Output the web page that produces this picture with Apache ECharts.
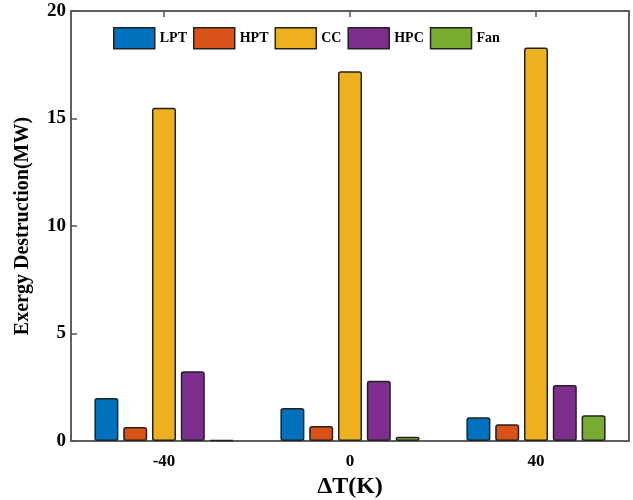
<!DOCTYPE html>
<html><head><meta charset="utf-8">
<script src="https://cdn.jsdelivr.net/npm/echarts@6/dist/echarts.min.js"></script>
<style>html,body{margin:0;padding:0;background:#fff}#c{width:633px;height:500px}</style>
</head><body><div id="c"></div>
<script>
const categories = ['-40', '0', '40'];
const seriesNames = ['LPT', 'HPT', 'CC', 'HPC', 'Fan'];
const LPT = [2.0, 1.53, 1.1];
const HPT = [0.65, 0.7, 0.78];
const CC = [15.5, 17.2, 18.3];
const HPC = [3.25, 2.8, 2.6];
const Fan = [0.05, 0.2, 1.2];
const yTicks = [0, 5, 10, 15, 20];
const colors = ['#0072BD', '#D95319', '#EDB120', '#7E2F8E', '#77AC30'];
const values = [LPT, HPT, CC, HPC, Fan];
const font = 'Liberation Serif';
const chart = echarts.init(document.getElementById('c'));
const series = seriesNames.map((n, i) => ({
  name: n, type: 'bar', data: values[i], barWidth: 24, barGap: '20%',
  itemStyle: {color: colors[i], borderColor: '#222', borderWidth: 1.5, borderRadius: 2}
}));
series.push({name: '_frame', type: 'line', xAxisIndex: 1, yAxisIndex: 1, data: ['-', '-', '-'], silent: true, showSymbol: false});
chart.setOption({
  animation: false,
  grid: {left: 71, right: 4, top: 11, bottom: 59, outerBoundsMode: 'none', containLabel: false,
    show: true, borderColor: '#555', borderWidth: 1.5, backgroundColor: 'transparent'},
  legend: {
    top: 27, left: 113, padding: 0, itemWidth: 41, itemHeight: 21, itemGap: 6, icon: 'rect',
    textStyle: {fontFamily: font, fontWeight: 'bold', fontSize: 14, color: '#000'},
    data: seriesNames.map((n, i) => ({name: n, itemStyle: {color: colors[i], borderColor: '#222', borderWidth: 1.5}}))
  },
  xAxis: [{
    type: 'category', data: categories,
    axisLine: {lineStyle: {color: '#555', width: 1.5}},
    axisTick: {show: true, inside: true, alignWithLabel: true, length: 5, lineStyle: {color: '#555'}},
    axisLabel: {fontFamily: font, fontWeight: 'bold', fontSize: 17, color: '#000', margin: 12},
    name: 'ΔT(K)', nameLocation: 'middle', nameGap: 34,
    nameTextStyle: {fontFamily: font, fontWeight: 'bold', fontSize: 24, color: '#000'}
  }, {
    show: true, type: 'category', data: categories, position: 'top', gridIndex: 0,
    axisLine: {show: true, onZero: false, lineStyle: {color: '#555', width: 1.5}},
    axisTick: {show: true, inside: true, alignWithLabel: true, length: 6, lineStyle: {color: '#555', width: 1.5}},
    axisLabel: {show: false}
  }],
  yAxis: [{
    type: 'value', min: 0, max: 20, interval: 5,
    axisLine: {show: true, lineStyle: {color: '#555', width: 1.5}},
    axisTick: {show: true, inside: true, length: 6, lineStyle: {color: '#555', width: 1.5}},
    splitLine: {show: false},
    axisLabel: {fontFamily: font, fontWeight: 'bold', fontSize: 19, color: '#000', margin: 5,
      formatter: v => yTicks.includes(v) ? String(v) : ''},
    name: 'Exergy Destruction(MW)', nameLocation: 'middle', nameGap: 38,
    nameTextStyle: {fontFamily: font, fontWeight: 'bold', fontSize: 20, color: '#000'}
  }, {
    show: true, type: 'value', min: 0, max: 20, interval: 5, position: 'right', gridIndex: 0,
    axisLine: {show: true, onZero: false, lineStyle: {color: '#555', width: 1.5}},
    axisTick: {show: false}, axisLabel: {show: false}, splitLine: {show: false}
  }],
  series: series
});
</script></body></html>
